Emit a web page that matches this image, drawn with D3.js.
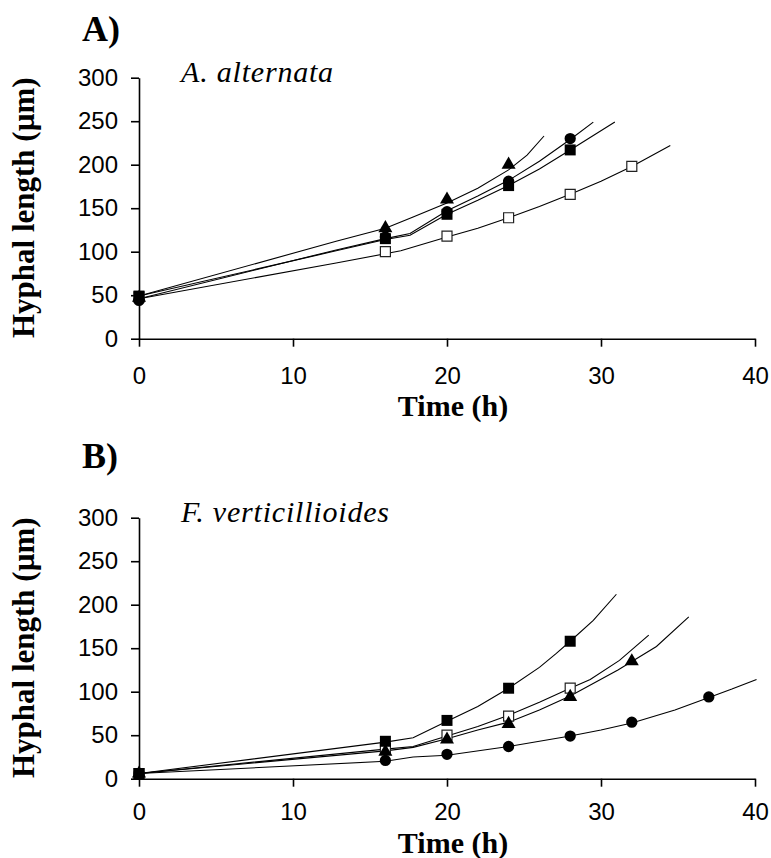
<!DOCTYPE html>
<html>
<head>
<meta charset="utf-8">
<script src="https://cdn.jsdelivr.net/npm/d3@7"></script>
<style>
  body { margin: 0; background: #fff; }
  .tick text { font-family: "Liberation Sans", Arial, sans-serif; font-size: 24px; fill: #000; }
  .domain, .tick line { stroke: #000; stroke-width: 1.6px; }
  .title { font-family: "Liberation Serif", "Times New Roman", serif; font-weight: bold; }
  .species { font-family: "Liberation Serif", "Times New Roman", serif; font-style: italic; }
</style>
</head>
<body>
<div id="chart"></div>
<script>
// measured times (h)
var aTimes = [0, 16, 20, 24, 28, 32];
var bTimes = [0, 16, 20, 24, 28, 32, 37];

// A) A. alternata - data points
var aOpenSquare = [48, 100, 118, 139, 166, 198];
var aCircle = [44, 117, 146, 181, 230];
var aSquare = [49, 115, 143, 176, 217];
var aTriangle = [47, 127, 160, 200];

// A) fitted curves [t, length]
var aOpenSquareFit = [[0, 46], [12.8, 87], [17, 101], [20, 117], [22, 127], [24, 139], [26, 152], [28, 166], [30, 181], [32, 198], [34.5, 222]];
var aCircleFit = [[0, 46], [12.8, 102], [16, 115], [17.6, 121], [20, 147], [22, 164], [24, 182], [26, 204], [28, 229], [29.5, 249]];
var aSquareFit = [[0, 49], [12.8, 101], [16, 114], [17.6, 119], [20, 143], [22, 159], [24, 176], [26, 195], [28, 217], [30.9, 249]];
var aTriangleFit = [[0, 49], [12.8, 112], [16, 127], [17.8, 140], [20, 156], [22, 173], [24, 194], [25.2, 211], [26.3, 233]];

// B) F. verticillioides - data points
var bOpenSquare = [6, 35, 50, 72, 104];
var bCircle = [6, 21, 28, 37, 49, 65, 94];
var bSquare = [6, 43, 67, 104, 158];
var bTriangle = [6, 31, 45, 63, 94, 135];

// B) fitted curves [t, length]
var bOpenSquareFit = [[0, 6], [16, 34], [17.8, 37], [20, 49], [22, 60], [24, 73], [26, 88], [28, 104], [29.3, 114], [31.2, 136], [33.1, 165]];
var bCircleFit = [[0, 6], [16, 20], [17.8, 25], [20, 27], [24, 37], [28, 49], [30, 56], [32, 64], [34.8, 79], [37.1, 94], [38.5, 103], [40.1, 114]];
var bSquareFit = [[0, 6], [16, 42], [17.8, 47], [20, 66], [22, 83], [24, 104], [26, 128], [27.1, 144], [28, 158], [29.5, 182], [31, 212]];
var bTriangleFit = [[0, 6], [16, 32], [17.8, 36], [20, 46], [22, 56], [24, 65], [26, 79], [28, 95], [31.1, 125], [33.6, 152], [35.7, 186]];

var xTicks = [0, 10, 20, 30, 40];
var yTicks = [0, 50, 100, 150, 200, 250, 300];

var svgWidth = 771;
var svgHeight = 858;

var svg = d3.select("#chart")
  .append("svg")
  .attr("width", svgWidth)
  .attr("height", svgHeight)
  .style("background", "#fff");

var xScale = d3.scaleLinear().domain([0, 40]).range([139, 755]);

var line = d3.line()
  .x(d => xScale(d[0]));

function toPoints(times, values) {
  return values.map((v, i) => [times[i], v]);
}

function drawPanel(p) {
  var yScale = d3.scaleLinear().domain([0, 300]).range([p.bottom, p.bottom - 261]);
  var g = svg.append("g");

  // axes
  g.append("g")
    .attr("transform", `translate(0, ${p.bottom})`)
    .call(d3.axisBottom(xScale).tickValues(xTicks).tickSize(8).tickSizeOuter(0).tickPadding(p.xPad));

  g.append("g")
    .attr("transform", `translate(${xScale(0)}, 0)`)
    .call(d3.axisLeft(yScale).tickValues(yTicks).tickSize(8).tickSizeOuter(0).tickPadding(13));

  g.selectAll(".domain").attr("fill", "none");

  // fitted curves
  line.y(d => yScale(d[1]));
  p.fits.forEach(function(f) {
    g.append("path")
      .attr("d", line(f))
      .attr("fill", "none")
      .attr("stroke", "#000")
      .attr("stroke-width", 1.1);
  });

  // markers
  p.series.forEach(function(s) {
    var sym = d3.symbol().type(s.type).size(s.size);
    g.selectAll(null)
      .data(toPoints(p.times, s.values))
      .enter()
      .append("path")
      .attr("d", sym)
      .attr("transform", d => `translate(${xScale(d[0])}, ${yScale(d[1])})`)
      .attr("fill", s.open ? "#fff" : "#000")
      .attr("stroke", s.open ? "#222" : "none")
      .attr("stroke-width", 1.2);
  });

  // labels
  g.append("text")
    .attr("class", "title")
    .attr("x", 82)
    .attr("y", p.letterY)
    .attr("font-size", "36px")
    .text(p.letter);

  g.append("text")
    .attr("class", "species")
    .attr("x", 181)
    .attr("y", p.bottom - 257)
    .attr("font-size", "30px")
    .attr("letter-spacing", "0.8px")
    .text(p.species);

  g.append("text")
    .attr("class", "title")
    .attr("text-anchor", "middle")
    .attr("x", 453)
    .attr("y", p.bottom + p.timeOffset)
    .attr("font-size", "30px")
    .text("Time (h)");

  g.append("text")
    .attr("class", "title")
    .attr("text-anchor", "middle")
    .attr("transform", `translate(34, ${p.bottom - 131}) rotate(-90)`)
    .attr("font-size", "31px")
    .text("Hyphal length (\u00b5m)");
}

drawPanel({
  bottom: 338.7,
  letter: "A)",
  letterY: 41,
  species: "A. alternata",
  xPad: 20,
  timeOffset: 77,
  times: aTimes,
  fits: [aOpenSquareFit, aCircleFit, aSquareFit, aTriangleFit],
  series: [
    {values: aOpenSquare, type: d3.symbolSquare, size: 100, open: true},
    {values: aCircle, type: d3.symbolCircle, size: 100},
    {values: aSquare, type: d3.symbolSquare, size: 121},
    {values: aTriangle, type: d3.symbolTriangle, size: 85}
  ]
});

drawPanel({
  bottom: 778.7,
  letter: "B)",
  letterY: 468,
  species: "F. verticillioides",
  xPad: 16,
  timeOffset: 74.5,
  times: bTimes,
  fits: [bOpenSquareFit, bCircleFit, bSquareFit, bTriangleFit],
  series: [
    {values: bOpenSquare, type: d3.symbolSquare, size: 100, open: true},
    {values: bCircle, type: d3.symbolCircle, size: 100},
    {values: bSquare, type: d3.symbolSquare, size: 121},
    {values: bTriangle, type: d3.symbolTriangle, size: 85}
  ]
});
</script>
</body>
</html>
